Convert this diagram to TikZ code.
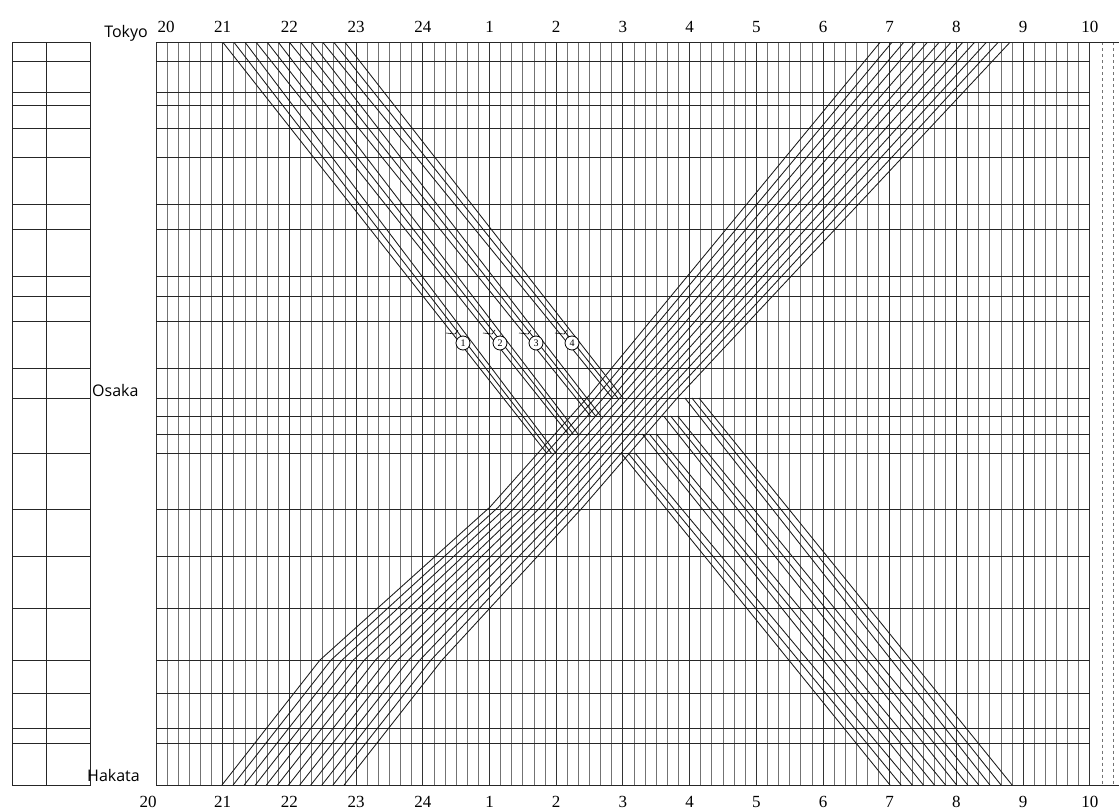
\documentclass[tikz,border=0pt]{standalone}
\usepackage{fontspec}
\usetikzlibrary{calc}
\setmainfont{Liberation Serif}
\newfontfamily\stfont{Open Sans}
\begin{document}
\begin{tikzpicture}[x=1pt,y=-1pt,
  hourline/.style={line width=1pt,black!80},
  minline/.style={line width=0.8pt,black!55},
  stline/.style={line width=1pt,black!85},
  train/.style={line width=0.85pt,black!90},
  hourlab/.style={font=\fontsize{17}{17}\selectfont,inner sep=0pt},
  stlab/.style={font=\stfont\fontsize{16}{16}\selectfont,inner sep=0pt},
  numlab/.style={circle,draw,fill=white,line width=0.8pt,inner sep=0pt,minimum size=14pt,font=\fontsize{10}{10}\selectfont}]
\useasboundingbox (0,0) rectangle (1119,810);
\fill[white] (0,0) rectangle (1119,810);
% vertical time lines (every 10 minutes)
\foreach \k in {0,...,84}{
  \pgfmathsetmacro\xx{156+11.117*\k}
  \pgfmathtruncatemacro\m{mod(\k,6)}
  \ifnum\m=0
    \draw[hourline] (\xx,42.5) -- (\xx,785);
  \else
    \draw[minline] (\xx,42.5) -- (\xx,785);
  \fi
}
\draw[minline,dashed] (1102,42.5) -- (1102,785);
\draw[minline,dashed] (1113,42.5) -- (1113,785);
% borders
\draw[stline] (156,42.5) -- (1119,42.5);
\draw[stline] (156,785) -- (1119,785);
% station lines
\foreach \yy in {62,93,106,129,158,205,230,277,297,322,368,398,416,434,453,509,556,608,660,693,728,743}{
  \draw[stline] (156,\yy) -- (1090,\yy);
}
% left panel
\draw[stline] (12,42.5) rectangle (90,785);
\draw[stline] (46,42.5) -- (46,785);
\foreach \yy in {62,93,106,129,158,205,230,277,297,322,368,398,453,509,556,608,660,693,728,743}{
  \draw[stline] (12,\yy) -- (90,\yy);
}
% descending trains: 4 groups of 3, each group stops at a station near Osaka
\foreach \g/\ys in {0/453,1/434,2/416,3/398}{
  \foreach \j in {0,1,2}{
    \pgfmathsetmacro\xt{223+11.1*(3*\g+\j)}
    \pgfmathsetmacro\xm{433+35.5*\g+7*(\j-1)}
    \pgfmathsetmacro\xe{\xm+(\xm-\xt)/257.5*(\ys-300)}
    \pgfmathsetmacro\xs{628+21.3*\g+7*(\j-1)}
    \pgfmathsetmacro\xb{890+11.1*(3*\g+\j)}
    \draw[train] (\xt,42.5) -- (\xm,300) -- (\xe,\ys);
    \draw[train] (\xs,\ys) -- (\xb,785);
  }
}
% ascending trains (Hakata -> Tokyo)
\foreach \i in {0,...,11}{
  \draw[train] ({222+11.1*\i},785) -- ({320+11.1*\i},660) -- ({490+8.45*\i},507)
     -- ({587+8.2*\i},398) -- ({880+11.8*\i},42.5);
}
% train numbers
\foreach \g/\xx in {1/463,2/500,3/536,4/572}{
  \node[numlab] (n\g) at (\xx,343) {\g};
  \draw[line width=0.6pt] ($(n\g)+(-17,-10)$) -- ($(n\g)+(-8,-9)$) -- ($(n\g)+(-5,-13)$);
}
% hour labels
\foreach \lab [count=\k from 0] in {20,21,22,23,24,1,2,3,4,5,6,7,8,9,10}{
  \pgfmathsetmacro\xx{156+66.7*\k}
  \ifnum\k=0
    \node[hourlab] (t\k) at (166,27) {\lab};
    \node[hourlab] (b\k) at (148,802) {\lab};
  \else
    \node[hourlab] (t\k) at (\xx,27) {\lab};
    \node[hourlab] (b\k) at (\xx,802) {\lab};
  \fi
}
% station labels
\node[stlab,anchor=east] (tokyo) at (148,33) {Tokyo};
\node[stlab,anchor=west] (osaka) at (92,390) {Osaka};
\node[stlab,anchor=west] (hakata) at (87,775) {Hakata};
\end{tikzpicture}
\end{document}
